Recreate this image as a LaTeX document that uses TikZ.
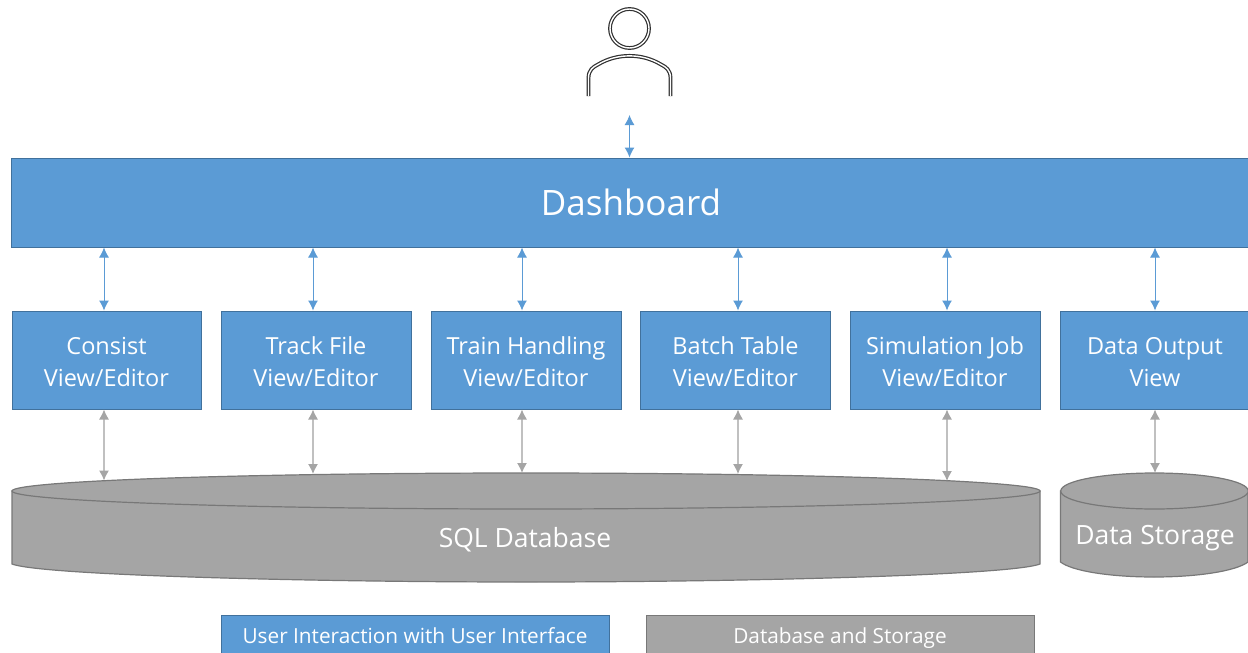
\documentclass[tikz,border=0pt]{standalone}
\usepackage{fontspec}
\setmainfont{Open Sans}
\usetikzlibrary{arrows.meta,shapes.geometric}
\definecolor{boxblue}{HTML}{5B9BD5}
\definecolor{edgeblue}{HTML}{41719C}
\definecolor{boxgray}{HTML}{A5A5A5}
\definecolor{edgegray}{HTML}{787878}
\definecolor{iconline}{HTML}{303030}
\tikzset{
  viewbox/.style={draw=edgeblue,fill=boxblue,text=white,line width=1pt,align=center,inner sep=0pt,
    minimum height=98pt,font=\fontsize{23.5}{32}\selectfont,text height=52pt,text depth=0pt},
  legendbox/.style={line width=1pt,text=white,inner sep=0pt,minimum width=388pt,minimum height=50pt},
  legendtext/.style={text=white,font=\fontsize{20.8}{24}\selectfont,execute at begin node=\strut},
  tanklid/.style={ellipse,draw=edgegray,fill=boxgray,line width=1.2pt,inner sep=0pt,minimum height=36pt},
  tanktext/.style={text=white,font=\fontsize{26.5}{32}\selectfont,execute at begin node=\strut},
  bluelink/.style={draw=boxblue,line width=1pt,{Latex[length=10pt,width=10pt]}-{Latex[length=10pt,width=10pt]}},
  graylink/.style={draw=boxgray!70,line width=1.2pt,
    {Latex[length=10pt,width=10pt,color=boxgray]}-{Latex[length=10pt,width=10pt,color=boxgray]}},
  iconstroke/.style={draw=iconline,line width=1.2pt,double=white,double distance=1.4pt},
}
\begin{document}
\begin{tikzpicture}[x=1pt,y=-1pt]
  \clip (0,0) rectangle (1248,653);
  \fill[white] (0,0) rectangle (1248,653);
  % user
  \node[circle,iconstroke,minimum size=39pt,inner sep=0pt] (head) at (629.5,28.5) {};
  \draw[iconstroke] (588.5,96)--(588.5,78)..controls (588.5,70) and (593,67) .. (598,64.5)
    ..controls (617,53) and (642,53) .. (661,64.5)..controls (666,67) and (670.5,70) .. (670.5,78)--(670.5,96);
  \coordinate (usergap) at (629.5,115);
  % dashboard and views
  \node[draw=edgeblue,fill=boxblue,text=white,line width=1pt,minimum width=1240pt,minimum height=89pt,
    inner sep=0pt,font=\fontsize{35}{42}\selectfont] (dash) at (631,202.5) {Dashboard};
  \node[viewbox,minimum width=189pt] (consist) at (106.5,360) {Consist\\View/Editor};
  \node[viewbox,minimum width=190pt] (track) at (316,360) {Track File\\View/Editor};
  \node[viewbox,minimum width=190pt] (train) at (526,360) {Train Handling\\View/Editor};
  \node[viewbox,minimum width=190pt] (batch) at (735.5,360) {Batch Table\\View/Editor};
  \node[viewbox,minimum width=190pt] (simjob) at (945,360) {Simulation Job\\View/Editor};
  \node[viewbox,minimum width=190pt] (output) at (1155,360) {Data Output\\View};
  % storage
  \draw[draw=edgegray,fill=boxgray,line width=1.2pt] (12,491)--(12,564)..controls (40,575) and (300,582) .. (526,582)
    ..controls (752,582) and (1012,575) .. (1040,564)--(1040,491)--cycle;
  \node[tanklid,minimum width=1028pt] (sqllid) at (526,491) {};
  \node[tanktext] (sqllabel) at (525,541) {SQL Database};
  \draw[draw=edgegray,fill=boxgray,line width=1.2pt] (1060.5,491)--(1060.5,562)..controls (1072,571) and (1110,577) .. (1154,577)
    ..controls (1198,577) and (1236,571) .. (1248,562)--(1248,491)--cycle;
  \node[tanklid,minimum width=187.5pt] (storelid) at (1154.5,491) {};
  \node[tanktext] (storelabel) at (1155,538) {Data Storage};
  % links
  \draw[bluelink] (usergap)--(dash.north -| usergap);
  \foreach \boxname/\linkx in {consist/104,track/313,train/522,batch/738,simjob/947,output/1155}
    \draw[bluelink] (\boxname.north -| \linkx,0)--(dash.south -| \linkx,0);
  \foreach \boxname/\linkx/\linky in {consist/104/480.5,track/313/474,train/522/473,batch/738/474,simjob/947/481,output/1155/473}{
    \coordinate (tankend) at (\linkx,\linky);
    \draw[graylink] (\boxname.south -| tankend)--(tankend);
  }
  % legend
  \node[legendbox,draw=edgeblue,fill=boxblue] (legendui) at (415,640) {};
  \node[legendbox,draw=edgegray,fill=boxgray] (legenddb) at (840,640) {};
  \node[legendtext] (legenduitext) at (415,639) {User Interaction with User Interface};
  \node[legendtext] (legenddbtext) at (840,639) {Database and Storage};
\end{tikzpicture}
\end{document}
